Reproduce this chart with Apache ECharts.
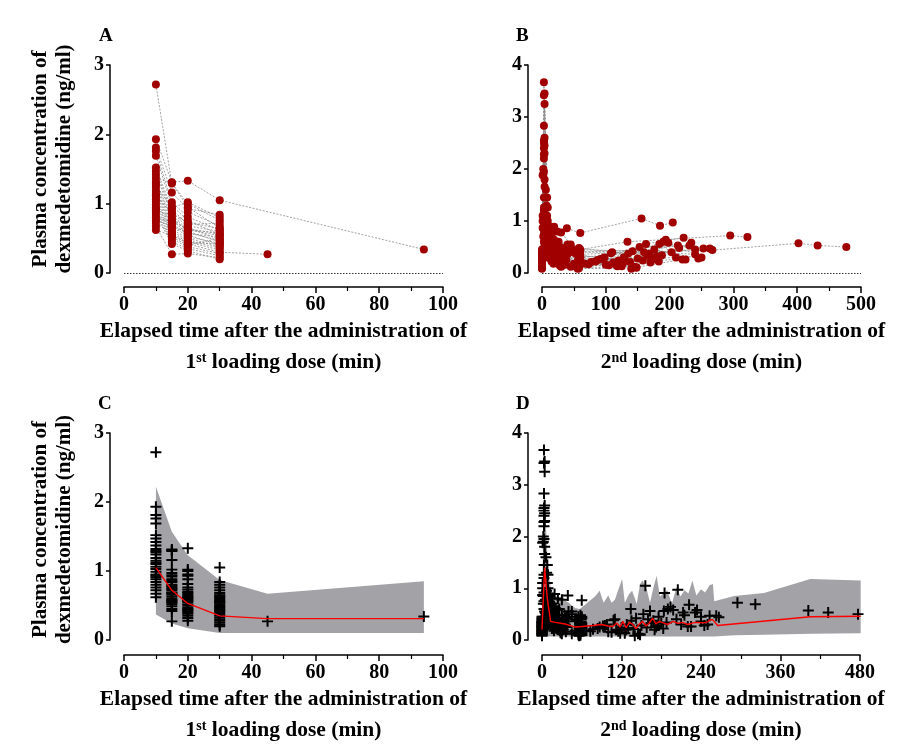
<!DOCTYPE html>
<html><head><meta charset="utf-8">
<script src="https://cdn.jsdelivr.net/npm/echarts@6/dist/echarts.min.js"></script>
<style>html,body{margin:0;padding:0;background:#fff}#c{width:919px;height:754px}</style>
</head><body><div id="c"></div>
<script>
// ---------------- DATA ----------------
const panelLetters = ['A', 'B', 'C', 'D'];
const yTicksAC = [0, 1, 2, 3];
const yTicksBD = [0, 1, 2, 3, 4];
const xTicksAC = [0, 20, 40, 60, 80, 100];
const xTicksB = [0, 100, 200, 300, 400, 500];
const xTicksD = [0, 120, 240, 360, 480];
const yTitle = 'Plasma concentration of\ndexmedetomidine (ng/ml)';
const xTitleLine1 = 'Elapsed time after the administration of';
const xTitleOrdAC = ['1', 'st'];
const xTitleOrdBD = ['2', 'nd'];
const xTitleLine2 = ' loading dose (min)';

// Observed concentrations after 1st loading dose, per subject: [min, ng/ml]
const subjA = [
  [[10,2.72],[15,1.29],[20,1.00],[30,0.76]],
  [[10,1.93],[15,1.31],[20,1.33],[30,1.05],[94,0.34]],
  [[10,1.81],[15,1.16],[20,0.93],[30,0.84]],
  [[10,1.76],[15,1.02],[20,0.81],[30,0.62]],
  [[10,1.69],[15,0.97],[20,0.76],[30,0.55]],
  [[10,1.52],[15,0.92],[20,0.70],[30,0.72]],
  [[10,1.47],[15,0.88],[20,0.66],[30,0.48]],
  [[10,1.42],[15,0.84],[20,0.62],[30,0.58]],
  [[10,1.37],[15,1.30],[20,0.95],[30,0.65]],
  [[10,1.32],[15,0.80],[20,0.60],[30,0.45]],
  [[10,1.29],[15,0.76],[20,0.57],[30,0.52]],
  [[10,1.24],[15,0.72],[20,0.55],[30,0.40]],
  [[10,1.19],[15,0.69],[20,0.52],[30,0.43]],
  [[10,1.15],[15,0.66],[20,0.88],[30,0.68]],
  [[10,1.10],[15,0.63],[20,0.50],[30,0.38]],
  [[10,1.06],[15,0.60],[20,0.47],[30,0.36]],
  [[10,1.03],[15,0.57],[20,0.45],[30,0.33]],
  [[10,0.99],[15,0.55],[20,0.42],[30,0.30],[45,0.27]],
  [[10,0.95],[15,0.52],[20,0.40],[30,0.50]],
  [[10,0.91],[15,0.49],[20,0.38],[30,0.28]],
  [[10,0.88],[15,0.45],[20,0.35],[30,0.25]],
  [[10,0.84],[15,0.42],[20,0.32],[30,0.20]],
  [[10,0.80],[15,0.74],[20,0.64],[30,0.56]],
  [[10,0.76],[15,0.68],[20,0.58],[30,0.47]],
  [[10,0.72],[15,0.58],[20,0.68],[30,0.60]],
  [[10,0.67],[15,0.27],[20,0.28],[30,0.22]],
  [[10,0.62],[15,0.54],[20,0.44],[30,0.42]],
  [[10,1.12],[15,0.86],[20,0.73],[30,0.64]],
  [[10,1.27],[15,0.94],[20,1.02],[30,0.80]],
  [[10,0.93],[15,0.78],[20,0.62],[30,0.54]]
];

// Observed concentrations after 2nd loading dose, per subject: [min, ng/ml]
const subjB = [
  [[0,0.32],[3,3.67],[8,1.45],[15,0.70],[30,0.42],[58,0.35],[95,0.28],[183,0.22]],
  [[0,0.28],[4,3.45],[9,1.26],[18,0.62],[32,0.38],[60,0.30],[120,0.24],[210,0.30]],
  [[0,0.25],[3,3.42],[8,1.10],[14,0.55],[28,0.33],[57,0.25],[87,0.25],[145,0.12]],
  [[1,0.40],[4,3.25],[9,1.00],[20,0.58],[35,0.42],[59,0.40],[110,0.40],[168,0.37],[253,0.47]],
  [[0,0.22],[3,2.83],[7,0.95],[16,0.50],[30,0.30],[56,0.22],[128,0.30],[190,0.60],[240,0.45]],
  [[0,0.18],[4,2.60],[10,0.85],[19,0.45],[33,0.26],[60,0.18],[77,0.21],[148,0.11],[220,0.26]],
  [[0,0.35],[3,2.55],[8,0.80],[13,0.48],[25,0.40],[58,0.48],[135,0.37],[213,0.53],[263,0.47]],
  [[0,0.15],[3,2.50],[9,0.75],[18,0.40],[29,0.22],[55,0.14],[67,0.18],[115,0.17],[175,0.28]],
  [[0,0.30],[4,2.45],[10,0.70],[22,0.42],[40,0.36],[60,0.33],[98,0.30],[153,0.50],[231,0.53]],
  [[0,0.12],[3,2.40],[8,0.68],[15,0.35],[30,0.20],[57,0.12],[105,0.15],[158,0.24],[225,0.26]],
  [[1,0.45],[4,2.30],[11,0.90],[20,0.62],[38,0.45],[60,0.45],[134,0.60],[295,0.72],[322,0.69]],
  [[0,0.26],[3,2.28],[9,0.82],[17,0.52],[31,0.34],[59,0.28],[138,0.21],[198,0.58],[250,0.30]],
  [[0,0.40],[2,2.00],[12,0.89],[24,0.80],[39,0.86],[60,0.77],[156,1.05],[185,0.91],[205,0.97]],
  [[0,0.20],[3,1.95],[8,0.60],[16,0.38],[30,0.26],[58,0.20],[125,0.13],[170,0.20],[234,0.58]],
  [[0,0.24],[2,1.90],[10,0.62],[21,0.40],[35,0.30],[57,0.30],[160,0.40],[267,0.44],[402,0.57],[432,0.53],[477,0.50]],
  [[0,0.14],[1,1.88],[7,0.58],[14,0.30],[27,0.18],[56,0.16],[163,0.56],[222,0.68]],
  [[0,0.33],[4,1.66],[9,0.55],[19,0.34],[33,0.25],[60,0.24],[180,0.32],[194,0.64]],
  [[0,0.10],[6,1.60],[12,0.50],[22,0.28],[36,0.16],[55,0.10],[184,0.56],[203,0.40]],
  [[0,0.38],[3,1.45],[8,0.72],[18,0.65],[40,0.55],[55,0.45],[142,0.42],[240,0.36]],
  [[0,0.22],[3,1.26],[6,0.70],[15,0.42],[26,0.30],[58,0.22],[92,0.27],[130,0.23]],
  [[0,0.30],[1,1.10],[5,0.78],[12,0.88],[19,0.89],[30,0.78],[45,0.55]],
  [[0,0.16],[1,1.00],[6,0.60],[14,0.36],[24,0.25],[50,0.18],[112,0.20],[165,0.33]],
  [[0,0.20],[1,0.87],[5,0.52],[10,0.45],[22,0.32],[38,0.25],[59,0.17],[150,0.28],[215,0.48]],
  [[0,0.12],[2,0.85],[7,0.42],[13,0.28],[25,0.20],[45,0.12],[58,0.09],[140,0.08]],
  [[0,0.45],[3,0.92],[9,0.65],[16,0.52],[30,0.48],[50,0.40],[176,0.45],[245,0.28]],
  [[0,0.08],[3,0.75],[8,0.38],[15,0.22],[28,0.14],[56,0.08],[118,0.13]],
  [[0,0.27],[2,0.70],[6,0.48],[12,0.40],[20,0.30],[35,0.28],[60,0.26],[84,0.22],[172,0.25]],
  [[0,0.18],[3,0.60],[8,0.35],[17,0.25],[32,0.20],[57,0.14],[73,0.17],[127,0.20]],
  [[0,0.35],[3,1.20],[10,0.55],[20,0.48],[36,0.42],[59,0.36],[108,0.38],[188,0.34]],
  [[0,0.10],[4,0.55],[9,0.30],[18,0.18],[30,0.12],[58,0.12],[100,0.16],[148,0.10]],
  [[0,0.42],[3,2.20],[7,1.30],[14,0.80],[26,0.60],[45,0.50],[60,0.42]],
  [[0,0.36],[4,1.80],[10,0.75],[19,0.55],[34,0.48],[52,0.38]]
];

// Panel C: prediction interval and median (1st loading dose)
const predC_time = [10, 15, 20, 30, 45, 94];
const predC_lo   = [0.37, 0.24, 0.17, 0.10, 0.10, 0.10];
const predC_hi   = [2.22, 1.57, 1.23, 0.87, 0.67, 0.85];
const predC_medT = [10, 15, 20, 30, 45, 94];
const predC_med  = [1.05, 0.72, 0.53, 0.35, 0.31, 0.31];

// Panel D: prediction interval and median (2nd loading dose)
const predD_time = [0, 2, 4, 7, 10, 14, 20, 30, 40, 50, 57, 65, 72, 80, 87, 93, 100, 105, 110, 116, 121, 125, 131, 136, 143, 148, 152, 158, 163, 168, 173, 178, 183, 189, 196, 203, 209, 215, 221, 227, 233, 240, 246, 253, 258, 260, 290, 335, 405, 481];
const predD_hi   = [0.45, 2.3, 2.95, 1.9, 1.25, 0.95, 0.85, 0.80, 0.72, 0.62, 0.60, 0.68, 0.76, 0.84, 0.95, 0.72, 0.86, 0.72, 0.78, 1.00, 1.18, 0.72, 0.88, 0.95, 0.70, 1.08, 1.15, 0.98, 0.72, 1.00, 1.24, 0.84, 0.90, 0.96, 0.70, 1.02, 0.84, 0.96, 0.90, 1.15, 0.86, 0.98, 0.92, 1.06, 1.08, 0.75, 0.85, 0.91, 1.18, 1.15];
const predD_lo   = [0.10, 0.08, 0.08, 0.07, 0.07, 0.07, 0.07, 0.07, 0.07, 0.07, 0.07, 0.07, 0.07, 0.07, 0.07, 0.07, 0.07, 0.07, 0.07, 0.07, 0.07, 0.07, 0.07, 0.07, 0.07, 0.07, 0.07, 0.07, 0.07, 0.07, 0.07, 0.07, 0.07, 0.07, 0.07, 0.07, 0.07, 0.07, 0.07, 0.07, 0.07, 0.07, 0.07, 0.07, 0.07, 0.07, 0.09, 0.10, 0.12, 0.13];
const predD_medT = [0, 4, 8, 13, 20, 35, 50, 60, 77, 90, 100, 107, 113, 118, 122, 127, 132, 137, 142, 147, 152, 157, 162, 167, 172, 177, 183, 190, 198, 205, 212, 220, 228, 236, 244, 250, 254, 258, 260, 265, 405, 481];
const predD_med  = [0.20, 1.40, 0.80, 0.36, 0.34, 0.31, 0.25, 0.26, 0.28, 0.30, 0.27, 0.26, 0.33, 0.25, 0.36, 0.24, 0.34, 0.30, 0.22, 0.31, 0.36, 0.27, 0.33, 0.42, 0.31, 0.36, 0.33, 0.30, 0.36, 0.32, 0.34, 0.30, 0.33, 0.34, 0.33, 0.35, 0.39, 0.39, 0.39, 0.28, 0.45, 0.46];

// ---------------- CHART ----------------
const FONT = '"Liberation Serif","Times New Roman",serif';
const RED_DOT = '#a00000';
const BAND = '#a2a2a7';
const PLUS = 'path://M4.1,0H5.9V4.1H10V5.9H5.9V10H4.1V5.9H0V4.1H4.1Z';

const flat = subs => subs.reduce((a, s) => a.concat(s), []);
const zip = (a, b) => a.map((v, i) => [v, b[i]]);
const step = t => t[1] - t[0];

const grids = [
  {left: 124, top: 65, width: 319, height: 208},
  {left: 542, top: 65, width: 319, height: 208},
  {left: 124, top: 433, width: 319, height: 207},
  {left: 542, top: 433, width: 318, height: 207}
].map(g => Object.assign({containLabel: false, outerBoundsMode: 'none'}, g));

const boldText = {fontFamily: FONT, fontWeight: 'bold', color: '#000'};

function xAxis(gi, ticks, ord, off) {
  return {
    type: 'value', gridIndex: gi, min: ticks[0], max: ticks[ticks.length - 1], interval: step(ticks),
    offset: off,
    axisLine: {show: true, onZero: false, lineStyle: {color: '#000', width: 1.5}},
    axisTick: {show: true, length: 6, lineStyle: {color: '#000', width: 1.5}},
    minorTick: {show: true, splitNumber: 2, length: 4, lineStyle: {color: '#000', width: 1.2}},
    splitLine: {show: false}, minorSplitLine: {show: false},
    axisLabel: Object.assign({fontSize: 20, margin: 8, showMinLabel: true, showMaxLabel: true, hideOverlap: false}, boldText),
    name: xTitleLine1 + '\n{n|' + ord[0] + '}{s|' + ord[1] + '}{n|' + xTitleLine2 + '}',
    nameLocation: 'middle', nameGap: 26,
    nameTextStyle: Object.assign({fontSize: 21.5, lineHeight: 31, rich: {
      n: Object.assign({fontSize: 21.5, lineHeight: 31}, boldText),
      s: Object.assign({fontSize: 14, verticalAlign: 'top', padding: [4, 0, 0, 0]}, boldText)
    }}, boldText)
  };
}
function yAxis(gi, ticks, withName, shift) {
  const a = {
    type: 'value', gridIndex: gi, min: ticks[0], max: ticks[ticks.length - 1], interval: step(ticks),
    offset: 14,
    axisLine: {show: true, onZero: false, lineStyle: {color: '#000', width: 1.5}},
    axisTick: {show: true, length: 4, lineStyle: {color: '#000', width: 1.5}},
    splitLine: {show: false},
    axisLabel: Object.assign({fontSize: 20, margin: 6, showMinLabel: true, showMaxLabel: true}, boldText)
  };
  if (withName) {
    a.name = yTitle; a.nameLocation = 'middle'; a.nameRotate = 90; a.nameGap = 33;
    a.nameTextStyle = Object.assign({fontSize: 21, lineHeight: 24, padding: [0, 0, 0, shift]}, boldText);
  }
  return a;
}

function subjectLines(subs, gi) {
  return subs.map(s => ({
    type: 'line', xAxisIndex: gi, yAxisIndex: gi, data: s, symbol: 'none', showSymbol: false,
    silent: true, animation: false, z: 2,
    lineStyle: {color: '#8a8a8a', width: 0.8, type: [2, 1.5]}
  }));
}
function dots(subs, gi) {
  return {
    type: 'scatter', xAxisIndex: gi, yAxisIndex: gi, data: flat(subs), symbol: 'circle', symbolSize: 8,
    itemStyle: {color: RED_DOT, opacity: 1}, silent: true, animation: false, z: 3,
    markLine: {silent: true, symbol: ['none', 'none'], label: {show: false}, animation: false,
      lineStyle: {color: '#333', width: 1, type: [1.5, 1.5]}, data: [{yAxis: 0}]}
  };
}
function crosses(subs, gi) {
  return {
    type: 'scatter', xAxisIndex: gi, yAxisIndex: gi, data: flat(subs), symbol: PLUS, symbolSize: 11,
    itemStyle: {color: '#000', opacity: 1}, silent: true, animation: false, z: 3
  };
}
function band(gi, t, lo, hi) {
  return {
    type: 'custom', xAxisIndex: gi, yAxisIndex: gi, silent: true, animation: false, z: 1,
    data: [[t[0], lo[0]]],
    renderItem: function (params, api) {
      const pts = [];
      for (let i = 0; i < t.length; i++) pts.push(api.coord([t[i], hi[i]]));
      for (let i = t.length - 1; i >= 0; i--) pts.push(api.coord([t[i], lo[i]]));
      return {type: 'polygon', shape: {points: pts}, style: {fill: BAND}};
    }
  };
}
function median(gi, t, v) {
  return {
    type: 'line', xAxisIndex: gi, yAxisIndex: gi, data: zip(t, v), symbol: 'none', showSymbol: false,
    silent: true, animation: false, z: 4, lineStyle: {color: '#ff0000', width: 1.4}
  };
}

const letterPos = [[99, 27], [516, 27], [98, 395], [516, 395]];
const option = {
  animation: false,
  backgroundColor: '#fff',
  title: panelLetters.map((L, i) => ({
    text: L, left: letterPos[i][0], top: letterPos[i][1], padding: 0,
    textStyle: Object.assign({fontSize: 19}, boldText)
  })),
  grid: grids,
  xAxis: [xAxis(0, xTicksAC, xTitleOrdAC, 14), xAxis(1, xTicksB, xTitleOrdBD, 14),
          xAxis(2, xTicksAC, xTitleOrdAC, 15), xAxis(3, xTicksD, xTitleOrdBD, 15)],
  yAxis: [yAxis(0, yTicksAC, true, 20), yAxis(1, yTicksBD, false, 0),
          yAxis(2, yTicksAC, true, 14), yAxis(3, yTicksBD, false, 0)],
  series: [].concat(
    subjectLines(subjA, 0), [dots(subjA, 0)],
    subjectLines(subjB, 1), [dots(subjB, 1)],
    [band(2, predC_time, predC_lo, predC_hi), crosses(subjA, 2), median(2, predC_medT, predC_med)],
    [band(3, predD_time, predD_lo, predD_hi), crosses(subjB, 3), median(3, predD_medT, predD_med)]
  )
};
const chart = echarts.init(document.getElementById('c'), null, {renderer: 'canvas'});
chart.setOption(option);
</script>
</body></html>
